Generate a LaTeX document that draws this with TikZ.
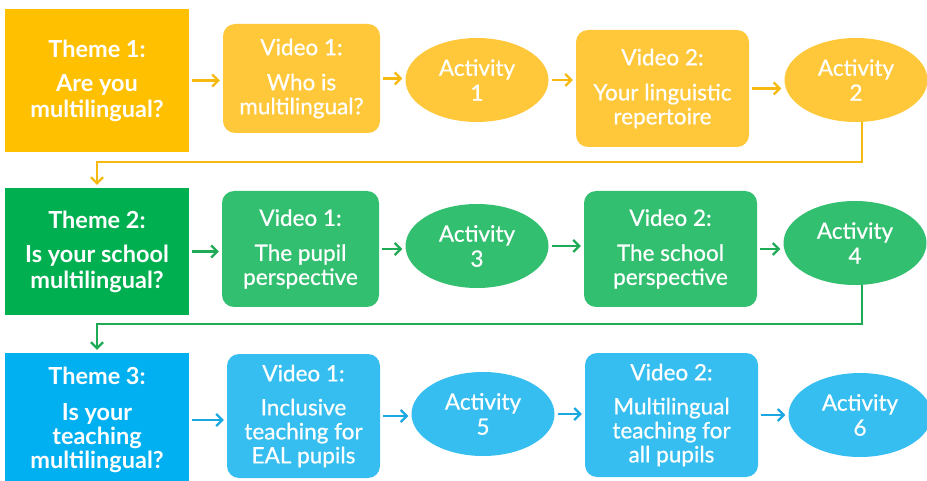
\documentclass[tikz,border=0pt]{standalone}
\usepackage{fontspec}
\setmainfont{Lato}
\newfontfamily\latomid{Lato}[FakeBold=0.6]
\usetikzlibrary{shapes.geometric,arrows.meta}

\definecolor{ythemefill}{HTML}{FFC000}
\definecolor{yfill}{HTML}{FFC83A}
\definecolor{yline}{HTML}{F6B910}
\definecolor{gthemefill}{HTML}{00B050}
\definecolor{gfill}{HTML}{33BF70}
\definecolor{gline}{HTML}{1FAA55}
\definecolor{bthemefill}{HTML}{00B0F0}
\definecolor{bfill}{HTML}{36BEF0}
\definecolor{bline}{HTML}{1AA8E2}

\tikzset{
  themebox/.style={rectangle, inner sep=0pt, text=white, align=center,
    font=\fontsize{23.5}{26}\selectfont\bfseries},
  videobox/.style={rectangle, rounded corners=12pt, inner sep=0pt, text=white, align=center,
    font=\latomid\fontsize{22.5}{24}\selectfont},
  actnode/.style={ellipse, inner sep=0pt, minimum width=143pt, minimum height=84pt,
    text=white, align=center, font=\latomid\fontsize{22.5}{25}\selectfont},
  flow/.style={line width=2.2pt, -{Straight Barb[length=6pt,width=12pt,line width=2.2pt]},
    shorten <=3pt, shorten >=3pt},
}

\begin{document}
\begin{tikzpicture}[x=1pt,y=-1pt]
\useasboundingbox (0,0) rectangle (927,481);

% ---- Theme 1 row
\node[themebox, fill=ythemefill, minimum width=184pt, minimum height=143pt] (t1) at (97,80.5)
  {Theme 1:\\[8pt]Are you\\multilingual?};
\node[videobox, fill=yfill, minimum width=157pt, minimum height=109pt] (v11) at (301.5,78.5)
  {Video 1:\\[11pt]Who is\\multilingual?};
\node[actnode, fill=yfill] (a1) at (477,80) {Activity\\1};
\node[videobox, fill=yfill, minimum width=173pt, minimum height=117pt] (v12) at (662.5,88.5)
  {Video 2:\\[11pt]Your linguistic\\repertoire};
\node[actnode, fill=yfill] (a2) at (856,80) {Activity\\2};

% ---- Theme 2 row
\node[themebox, fill=gthemefill, minimum width=184pt, minimum height=127pt] (t2) at (97,251.5)
  {Theme 2:\\[8pt]Is your school\\multilingual?};
\node[videobox, fill=gfill, minimum width=157pt, minimum height=116pt] (v21) at (300.5,249)
  {Video 1:\\[11pt]The pupil\\perspective};
\node[actnode, fill=gfill] (a3) at (477,246) {Activity\\3};
\node[videobox, fill=gfill, minimum width=173pt, minimum height=116pt] (v22) at (670.5,249)
  {Video 2:\\[11pt]The school\\perspective};
\node[actnode, fill=gfill] (a4) at (855,243) {Activity\\4};

% ---- Theme 3 row
\node[themebox, fill=bthemefill, minimum width=184pt, minimum height=134pt] (t3) at (97,420)
  {Theme 3:\\[10pt]Is your\\[-2pt]teaching\\[-2pt]multilingual?};
\node[videobox, fill=bfill, minimum width=153pt, minimum height=124pt] (v31) at (303.5,416)
  {Video 1:\\[10pt]Inclusive\\teaching for\\EAL pupils};
\node[actnode, fill=bfill] (a5) at (483,414) {Activity\\5};
\node[videobox, fill=bfill, minimum width=173pt, minimum height=124pt] (v32) at (671.5,415)
  {Video 2:\\[10pt]Multilingual\\teaching for\\all pupils};
\node[actnode, fill=bfill] (a6) at (860,415) {Activity\\6};

% ---- connectors within rows
\draw[flow, yline] (t1.east) -- (t1.east -| v11.west);
\draw[flow, yline] (v11.east) -- (v11.east -| a1.west);
\draw[flow, yline] (a1.east) -- (a1.east -| v12.west);
\draw[flow, yline] (v12.east) -- (v12.east -| a2.west);

\draw[flow, gline] (t2.east) -- (t2.east -| v21.west);
\draw[flow, gline] (v21.east) -- (v21.east -| a3.west);
\draw[flow, gline] (a3.east) -- (a3.east -| v22.west);
\draw[flow, gline] (v22.east) -- (v22.east -| a4.west);

\draw[flow, bline] (t3.east) -- (t3.east -| v31.west);
\draw[flow, bline] (v31.east) -- (v31.east -| a5.west);
\draw[flow, bline] (a5.east) -- (a5.east -| v32.west);
\draw[flow, bline] (v32.east) -- (v32.east -| a6.west);

% ---- connectors between rows
\draw[flow, yline, shorten <=0pt] ([xshift=6pt]a2.south) -- ++(0,40) -| (t2.north);
\draw[flow, gline, shorten <=0pt] ([xshift=7pt]a4.south) -- ++(0,39) -| (t3.north);
\end{tikzpicture}
\end{document}
